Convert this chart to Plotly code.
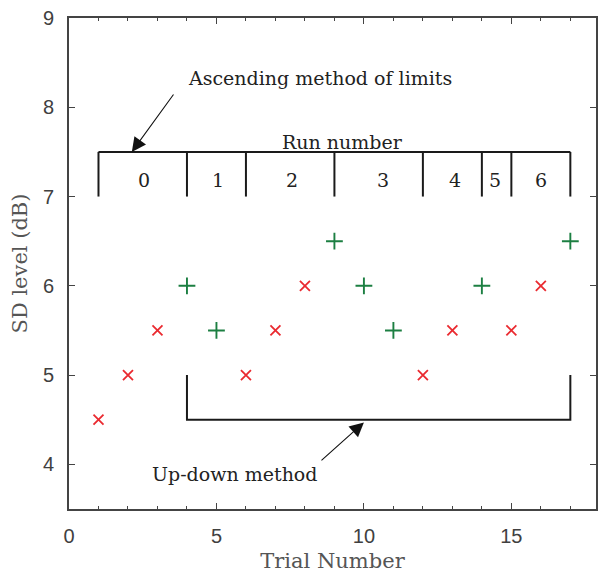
import plotly.graph_objects as go

# ---- data ----
trials = list(range(1, 18))
levels = [4.5, 5.0, 5.5, 6.0, 5.5, 5.0, 5.5, 6.0, 6.5, 6.0, 5.5, 5.0, 5.5, 6.0, 5.5, 6.0, 6.5]
responses = ["x", "x", "x", "+", "+", "x", "x", "x", "+", "+", "+", "x", "x", "+", "x", "x", "+"]

run_bounds = [1, 4, 6, 9, 12, 14, 15, 17]
run_labels = ["0", "1", "2", "3", "4", "5", "6"]
run_top = 7.5
run_bottom = 7.0

updown_bounds = [4, 17]
updown_line = 4.5
updown_top = 5.0

RED = "#ea2a30"
GREEN = "#1c7f42"
AXIS = "#444444"
SERIF = "DejaVu Serif"
SANS = "Liberation Sans, Arial, sans-serif"

xs_x = [t for t, r in zip(trials, responses) if r == "x"]
ys_x = [v for v, r in zip(levels, responses) if r == "x"]
xs_p = [t for t, r in zip(trials, responses) if r == "+"]
ys_p = [v for v, r in zip(levels, responses) if r == "+"]

fig = go.Figure()

# Run number bracket
bx, by = [run_bounds[0], run_bounds[-1], None], [run_top, run_top, None]
for b in run_bounds:
    bx += [b, b, None]
    by += [run_top, run_bottom, None]
fig.add_trace(go.Scatter(x=bx, y=by, mode="lines", line=dict(color="#1a1a1a", width=2),
                         hoverinfo="skip", showlegend=False))

# Up-down bracket
ux = [updown_bounds[0], updown_bounds[0], updown_bounds[1], updown_bounds[1]]
uy = [updown_top, updown_line, updown_line, updown_top]
fig.add_trace(go.Scatter(x=ux, y=uy, mode="lines", line=dict(color="#1a1a1a", width=2),
                         hoverinfo="skip", showlegend=False))

fig.add_trace(go.Scatter(x=xs_x, y=ys_x, mode="markers",
                         marker=dict(symbol="x-thin", size=10, line=dict(color=RED, width=1.8)),
                         showlegend=False))
fig.add_trace(go.Scatter(x=xs_p, y=ys_p, mode="markers",
                         marker=dict(symbol="cross-thin", size=12, line=dict(color=GREEN, width=1.9)),
                         showlegend=False))

ann = []
# run labels
label_x = [2.53, 5.04, 7.55, 10.65, 13.1, 14.45, 16.0]
for lx, lt in zip(label_x, run_labels):
    ann.append(dict(x=lx, y=7.18, text=lt, showarrow=False, font=dict(family=SERIF, size=19, color="#222")))
ann.append(dict(x=9.29, y=7.61, text="Run number", showarrow=False,
                font=dict(family=SERIF, size=19, color="#222")))
ann.append(dict(x=8.51, y=8.33, text="Ascending method of limits", showarrow=False,
                font=dict(family=SERIF, size=19, color="#222")))
ann.append(dict(x=5.61, y=3.89, text="Up-down method", showarrow=False,
                font=dict(family=SERIF, size=19, color="#222")))
# arrows
ann.append(dict(x=2.13, y=7.5, ax=3.58, ay=8.16, axref="x", ayref="y", xref="x", yref="y",
                text="", showarrow=True, arrowhead=2, arrowsize=2.6, arrowwidth=1.1, arrowcolor="#111"))
ann.append(dict(x=10.0, y=4.47, ax=8.51, ay=4.03, axref="x", ayref="y", xref="x", yref="y",
                text="", showarrow=True, arrowhead=2, arrowsize=2.6, arrowwidth=1.1, arrowcolor="#111"))

fig.update_layout(
    width=598, height=575,
    margin=dict(l=69, r=0, t=18, b=65.5),
    plot_bgcolor="white", paper_bgcolor="white",
    annotations=ann,
    showlegend=False,
)
fig.update_xaxes(
    range=[0, 17.87], tickvals=[0, 5, 10, 15], showgrid=False, zeroline=False,
    showline=True, linecolor=AXIS, linewidth=1.6, mirror="ticks",
    ticks="inside", ticklen=6, tickwidth=1.4, tickcolor=AXIS,
    minor=dict(dtick=1, tick0=0, ticks="inside", ticklen=3, tickwidth=1.2, tickcolor=AXIS, showgrid=False),
    tickfont=dict(family=SANS, size=20, color="#404040"), ticklabelstandoff=8,
    title=dict(text="Trial Number", font=dict(family=SERIF, size=21, color="#555555"), standoff=8),
)
fig.update_yaxes(
    range=[3.5, 9], tickvals=[4, 5, 6, 7, 8, 9], showgrid=False, zeroline=False,
    showline=True, linecolor=AXIS, linewidth=1.6, mirror="ticks",
    ticks="inside", ticklen=6, tickwidth=1.4, tickcolor=AXIS,
    tickfont=dict(family=SANS, size=20, color="#404040"), ticklabelstandoff=9,
    title=dict(text="SD level (dB)", font=dict(family=SERIF, size=21, color="#555555"), standoff=10),
)

fig.write_html("out.html")
